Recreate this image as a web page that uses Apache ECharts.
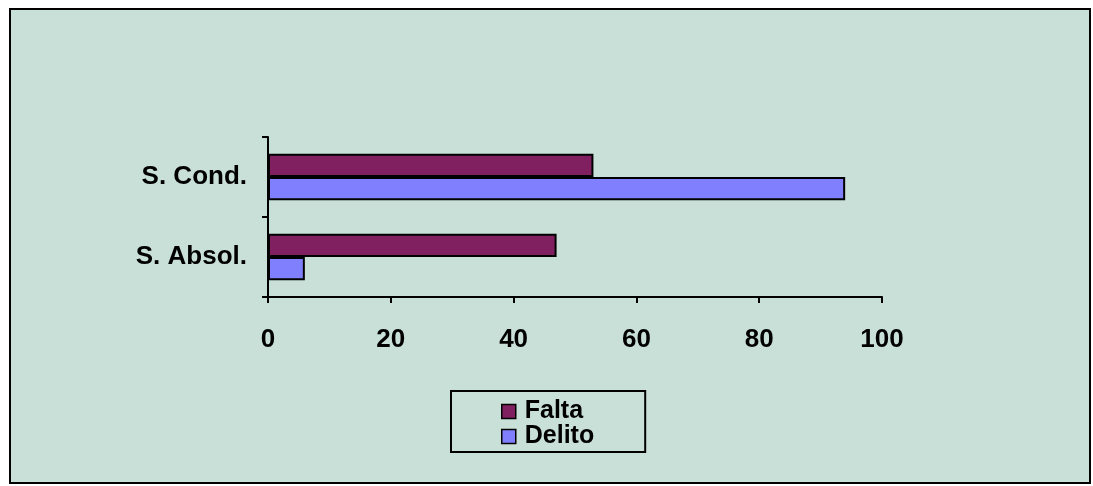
<!DOCTYPE html>
<html>
<head>
<meta charset="utf-8">
<script src="https://cdn.jsdelivr.net/npm/echarts@6/dist/echarts.min.js"></script>
<style>
  html, body { margin: 0; padding: 0; background: #fff; }
  #frame {
    position: absolute; left: 9px; top: 8px; width: 1078px; height: 472px;
    border: 2px solid #000; background: #c9e0d8;
  }
  #main { position: absolute; left: 0; top: 0; width: 1093px; height: 486px; }
</style>
</head>
<body>
<div id="frame"></div>
<div id="main"></div>
<script>
const categories = ["S. Absol.", "S. Cond."]
const falta = [47, 53]
const delito = [6, 94]
const xTicks = { min: 0, max: 100, interval: 20 }

const chart = echarts.init(document.getElementById("main"))

const font = { fontFamily: "Liberation Sans, Arial, sans-serif", fontWeight: "bold", fontSize: 26, color: "#000" }

const option = {
  backgroundColor: "transparent",
  animation: false,
  grid: { left: 268, right: 211, top: 137, bottom: 189, containLabel: false },
  xAxis: {
    type: "value",
    min: xTicks.min,
    max: xTicks.max,
    interval: xTicks.interval,
    splitLine: { show: false },
    axisLine: { show: true, lineStyle: { color: "#000", width: 2 } },
    axisTick: { show: true, length: 6, lineStyle: { color: "#000", width: 2 } },
    axisLabel: { ...font, margin: 30 },
  },
  yAxis: {
    type: "category",
    data: categories,
    axisLine: { show: true, lineStyle: { color: "#000", width: 2 } },
    axisTick: { show: true, inside: false, length: 6, lineStyle: { color: "#000", width: 2 } },
    axisLabel: { ...font, margin: 21 },
  },
  legend: {
    orient: "vertical",
    left: 451,
    top: 391,
    padding: [8, 51, 3, 50],
    itemGap: 0,
    itemWidth: 14,
    itemHeight: 14,
    icon: "rect",
    borderColor: "#000",
    borderWidth: 2,
    itemStyle: { borderColor: "#000", borderWidth: 1.5 },
    textStyle: { ...font, fontSize: 25, lineHeight: 23, padding: [0, 0, 0, 4] },
    data: ["Falta", "Delito"],
  },
  series: [
    {
      name: "Falta",
      type: "bar",
      data: falta,
      barGap: "0%",
      barCategoryGap: "42%",
      itemStyle: { color: "#802060", borderColor: "#000", borderWidth: 2 },
    },
    {
      name: "Delito",
      type: "bar",
      data: delito,
      barGap: "0%",
      barCategoryGap: "42%",
      itemStyle: { color: "#8080ff", borderColor: "#000", borderWidth: 2 },
    },
  ],
}

chart.setOption(option)
</script>
</body>
</html>
